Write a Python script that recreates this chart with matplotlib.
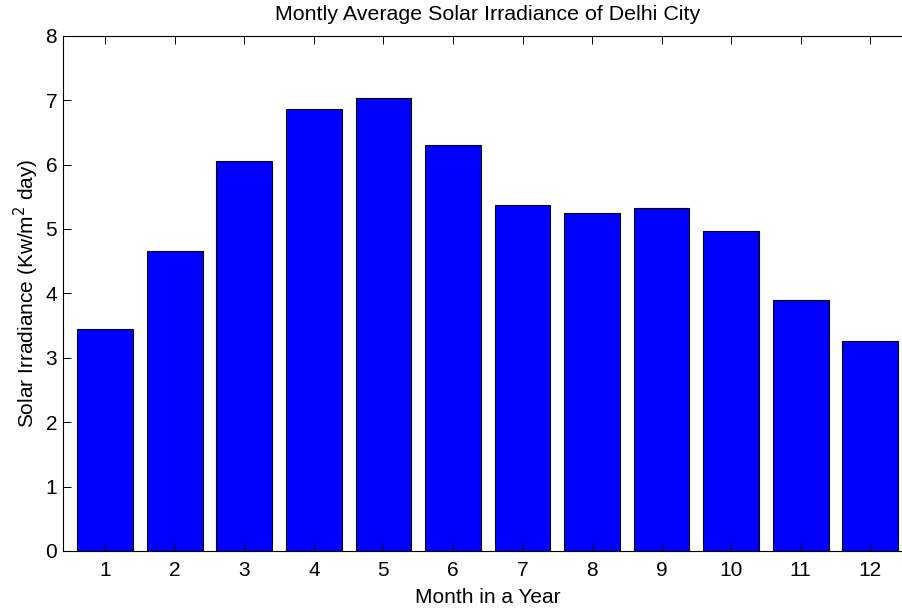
import matplotlib
matplotlib.use("Agg")
import matplotlib.pyplot as plt

# monthly values
months = [1, 2, 3, 4, 5, 6, 7, 8, 9, 10, 11, 12]
irradiance = [3.44, 4.65, 6.05, 6.86, 7.04, 6.31, 5.37, 5.25, 5.33, 4.96, 3.90, 3.26]

plt.rcParams['font.family'] = ['Liberation Sans', 'DejaVu Sans']
plt.rcParams['font.size'] = 15

fig = plt.figure(figsize=(9.03, 6.12), dpi=100)
# the original is cropped on the right, so the axes run past the figure edge
ax = fig.add_axes([0.0703, 0.0997, 1.010 - 0.0703, 0.9417 - 0.0997])

ax.bar(months, irradiance, width=0.8, color='#0000ff', edgecolor='black', linewidth=0.8)

ax.set_xlim(0.4, 12.6)
ax.set_ylim(0, 8)
ax.set_xticks(months)
ax.set_yticks(range(0, 9))

ax.tick_params(direction='in', top=True, right=True, length=6, width=0.7)
ax.tick_params(axis='x', pad=7)
ax.tick_params(axis='y', pad=4.5)
for s in ax.spines.values():
    s.set_linewidth(0.8)

ax.set_xlabel("Month in a Year", labelpad=6)
ax.set_ylabel("Solar Irradiance (Kw/m$^2$ day)", labelpad=3.5)
ax.set_title("Montly Average Solar Irradiance of Delhi City", fontsize=15.4, pad=11)

fig.savefig("out.png", dpi=100)
